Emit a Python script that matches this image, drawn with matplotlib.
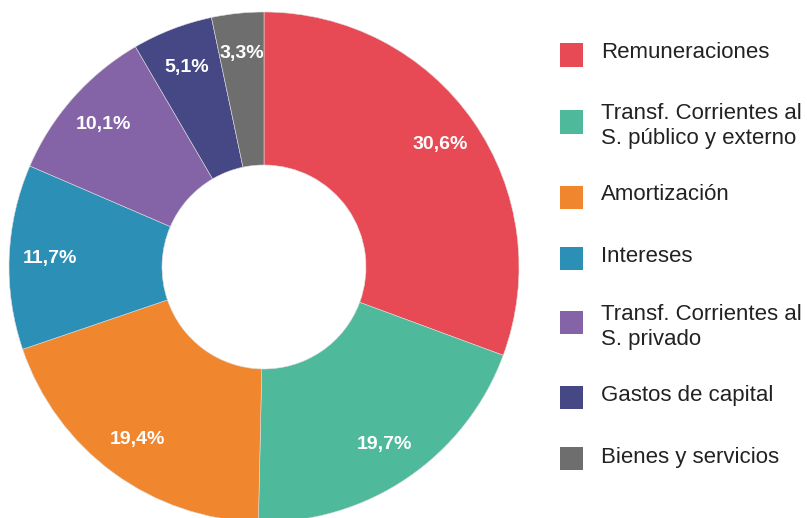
import numpy as np
import matplotlib
matplotlib.use("Agg")
import matplotlib.pyplot as plt
from matplotlib.patches import Rectangle

plt.rcParams['font.family'] = ['Liberation Sans', 'DejaVu Sans']

# data
categories = ["Remuneraciones",
              "Transf. Corrientes al\nS. público y externo",
              "Amortización",
              "Intereses",
              "Transf. Corrientes al\nS. privado",
              "Gastos de capital",
              "Bienes y servicios"]
shares = [30.6, 19.7, 19.4, 11.7, 10.1, 5.1, 3.3]
pct_labels = ["30,6%", "19,7%", "19,4%", "11,7%", "10,1%", "5,1%", "3,3%"]
colors = ["#E84A55", "#4FB99B", "#F0872F", "#2C8FB6", "#8463A6", "#464885", "#6E6E6E"]

W, H = 807, 518
fig = plt.figure(figsize=(W / 100, H / 100), dpi=100)

# donut
cx, cy, r = 264, 267, 255
ax = fig.add_axes([(cx - r) / W, (H - cy - r) / H, 2 * r / W, 2 * r / H])
wedges, _ = ax.pie(shares, colors=colors, startangle=90, counterclock=False,
                   radius=1.0, wedgeprops=dict(width=0.6, edgecolor="#dddddd", linewidth=0.4))
ax.set_xlim(-1, 1)
ax.set_ylim(-1, 1)
ax.set_aspect("equal")
ax.axis("off")

for w, lab in zip(wedges, pct_labels):
    ang = np.deg2rad((w.theta1 + w.theta2) / 2)
    ax.text(0.84 * np.cos(ang), 0.84 * np.sin(ang), lab, ha="center", va="center",
            color="white", fontsize=14, fontweight="bold")

# legend drawn by hand
legend_y = [55, 122, 197, 258, 322, 397, 458]
text_y = [53, 126, 195, 256, 327, 396, 458]
for y, ty, lab, c in zip(legend_y, text_y, categories, colors):
    fig.patches.append(Rectangle((560 / W, (H - y - 11.5) / H), 23 / W, 23 / H,
                                 transform=fig.transFigure, facecolor=c, edgecolor="none"))
    fig.text(601 / W, (H - ty) / H, lab, ha="left", va="center", fontsize=16,
             color="#222222", linespacing=1.3)

fig.savefig("out.png", dpi=100)
